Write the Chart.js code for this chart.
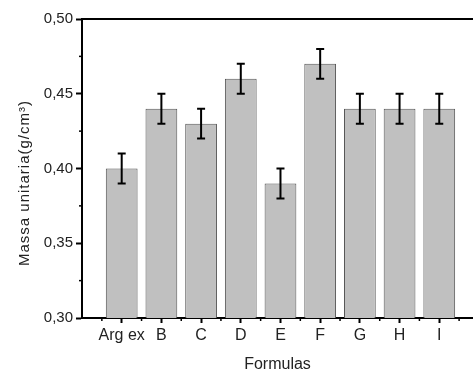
<!DOCTYPE html>
<html>
<head>
<meta charset="utf-8">
<script src="https://cdn.jsdelivr.net/npm/chart.js@4"></script>
<style>
  html, body { margin: 0; padding: 0; background: #fff; }
  #wrap { width: 473px; height: 372px; position: relative; overflow: hidden; }
</style>
</head>
<body>
<div id="wrap"><canvas id="chart"></canvas></div>
<script>
const formulas = ['Arg ex', 'B', 'C', 'D', 'E', 'F', 'G', 'H', 'I']
const massa = [0.40, 0.44, 0.43, 0.46, 0.39, 0.47, 0.44, 0.44, 0.44]
const erro = [0.01, 0.01, 0.01, 0.01, 0.01, 0.01, 0.01, 0.01, 0.01]
const yTicks = [0.30, 0.35, 0.40, 0.45, 0.50]
const yTitle = 'Massa unitaria(g/cm³)'

const family = '"Liberation Sans", Arial, sans-serif'
const font = { family: family, size: 15 }

// error bars + minor ticks + top frame line + y title
const extras = {
    id: 'extras',
    afterDatasetsDraw(chart) {
        const ctx = chart.ctx
        const x = chart.scales.x
        const y = chart.scales.y
        const area = chart.chartArea
        ctx.save()
        ctx.strokeStyle = '#000'
        ctx.lineWidth = 2
        massa.forEach(function (v, i) {
            const px = x.getPixelForValue(i)
            const top = y.getPixelForValue(v + erro[i])
            const bot = y.getPixelForValue(v - erro[i])
            ctx.beginPath()
            ctx.moveTo(px, top); ctx.lineTo(px, bot)
            ctx.moveTo(px - 4, top); ctx.lineTo(px + 4, top)
            ctx.moveTo(px - 4, bot); ctx.lineTo(px + 4, bot)
            ctx.stroke()
        })
        // frame top
        ctx.beginPath()
        ctx.moveTo(area.left - 1, area.top)
        ctx.lineTo(area.right, area.top)
        ctx.stroke()
        // minor ticks
        ctx.lineWidth = 1.5
        for (let i = 0; i < formulas.length + 1; i++) {
            const px = x.getPixelForValue(i - 0.5)
            ctx.beginPath()
            ctx.moveTo(px, area.bottom); ctx.lineTo(px, area.bottom + 3)
            ctx.stroke()
        }
        for (let i = 0; i < yTicks.length - 1; i++) {
            const py = y.getPixelForValue(yTicks[i] + 0.025)
            ctx.beginPath()
            ctx.moveTo(area.left, py); ctx.lineTo(area.left - 3, py)
            ctx.stroke()
        }
        // y title, a bit lower than the area centre
        ctx.translate(25, 183)
        ctx.rotate(-Math.PI / 2)
        ctx.font = '15px ' + family
        ctx.letterSpacing = '1px'
        ctx.fillStyle = '#222'
        ctx.textAlign = 'center'
        ctx.textBaseline = 'middle'
        ctx.fillText(yTitle, 0, 0)
        ctx.restore()
    }
}

new Chart(document.getElementById('chart'), {
    type: 'bar',
    data: {
        datasets: [{
            data: massa.map(function (v, i) { return { x: i, y: v } }),
            backgroundColor: '#c0c0c0',
            borderColor: '#555',
            borderWidth: 1,
            barPercentage: 1,
            categoryPercentage: 0.8
        }]
    },
    options: {
        responsive: true,
        maintainAspectRatio: false,
        animation: false,
        layout: { padding: { top: 19, right: 0, left: 0, bottom: 0 } },
        plugins: { legend: { display: false }, tooltip: { enabled: false } },
        scales: {
            x: {
                type: 'linear',
                offset: false,
                min: -1,
                max: 8.85,
                afterBuildTicks: function (scale) {
                    scale.ticks = formulas.map(function (f, i) { return { value: i } })
                },
                afterFit: function (scale) { scale.height = 54 },
                grid: { drawOnChartArea: false, offset: false, tickLength: 5, tickColor: '#000', tickWidth: 2 },
                border: { color: '#000', width: 2 },
                ticks: {
                    color: '#222', font: { family: family, size: 16 }, padding: 3, maxRotation: 0, autoSkip: false,
                    callback: function (v) { return formulas[v] }
                },
                title: { display: true, text: 'Formulas', color: '#222', font: { family: family, size: 16 }, padding: { top: 0, bottom: -2 } }
            },
            y: {
                min: 0.30,
                max: 0.50,
                afterBuildTicks: function (scale) {
                    scale.ticks = yTicks.map(function (v) { return { value: v } })
                },
                afterFit: function (scale) { scale.width = 82 },
                grid: { drawOnChartArea: false, tickLength: 6, tickColor: '#000', tickWidth: 2 },
                border: { color: '#000', width: 2 },
                ticks: {
                    color: '#222', font: font, padding: 3,
                    callback: function (v) { return v.toFixed(2).replace('.', ',') }
                },
                title: { display: false }
            }
        }
    },
    plugins: [extras]
})
</script>
</body>
</html>
